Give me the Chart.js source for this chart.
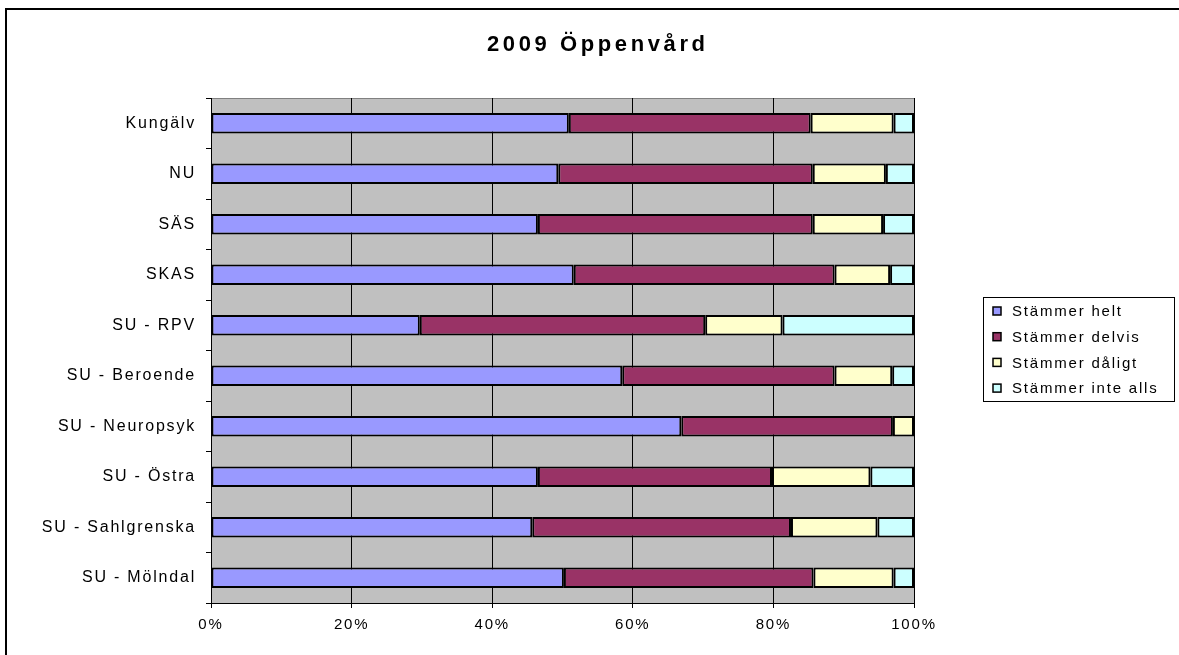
<!DOCTYPE html>
<html>
<head>
<meta charset="utf-8">
<script src="https://cdn.jsdelivr.net/npm/chart.js@4.4.1/dist/chart.umd.min.js"></script>
<style>
html,body{margin:0;padding:0;background:#fff;}
#wrap{width:1179px;height:655px;position:relative;}
</style>
</head>
<body>
<div id="wrap"><canvas id="c" width="1179" height="655"></canvas></div>
<script>
const chartTitle = '2009 Öppenvård';
const categories = ['Kungälv','NU','SÄS','SKAS','SU - RPV','SU - Beroende','SU - Neuropsyk','SU - Östra','SU - Sahlgrenska','SU - Mölndal'];
const seriesNames = ['Stämmer helt','Stämmer delvis','Stämmer dåligt','Stämmer inte alls'];
const stammerHelt   = [50.9, 49.4, 46.5, 51.6, 29.7, 58.5, 66.9, 46.5, 45.7, 50.2];
const stammerDelvis = [34.4, 36.2, 39.1, 37.1, 40.6, 30.2, 30.1, 33.3, 36.8, 35.5];
const stammerDaligt = [11.8, 10.4, 10.0,  7.9, 11.0,  8.2,  3.0, 14.0, 12.3, 11.4];
const stammerInte   = [ 2.9,  4.0,  4.4,  3.4, 18.7,  3.1,  0.0,  6.2,  5.2,  2.9];
const xTicks = [0, 20, 40, 60, 80, 100];
const colors = ['#9999FF','#993366','#FFFFCC','#CCFFFF'];
const seriesValues = [stammerHelt, stammerDelvis, stammerDaligt, stammerInte];

const FONT = "'Liberation Sans', Arial, sans-serif";
const AXIS_SPACING = '1.8px';

const canvas = document.getElementById('c');

const deco = {
  id: 'deco',
  beforeUpdate(chart) { chart.ctx.letterSpacing = AXIS_SPACING; },
  beforeDraw(chart) {
    const {ctx, chartArea: a} = chart;
    ctx.letterSpacing = AXIS_SPACING;
    ctx.save();
    ctx.fillStyle = '#ffffff';
    ctx.fillRect(0, 0, chart.width, chart.height);
    ctx.strokeStyle = '#000';
    ctx.lineWidth = 2;
    ctx.strokeRect(6, 9, chart.width + 20, chart.height + 20);
    ctx.fillStyle = '#C0C0C0';
    ctx.fillRect(a.left, a.top, a.right - a.left, a.bottom - a.top);
    ctx.strokeStyle = '#808080';
    ctx.lineWidth = 1;
    ctx.strokeRect(a.left + 0.5, a.top + 0.5, a.right - a.left, a.bottom - a.top);
    ctx.restore();
  },
  afterDraw(chart) {
    const {ctx} = chart;
    ctx.save();
    ctx.fillStyle = '#000';
    ctx.font = 'bold 22px ' + FONT;
    ctx.letterSpacing = '3.6px';
    ctx.textAlign = 'left';
    ctx.textBaseline = 'middle';
    const tw = ctx.measureText(chartTitle).width - 3.6;
    ctx.fillText(chartTitle, 596 - tw / 2, 45);
    const lx = 983, ly = 297, lw = 191, lh = 104;
    ctx.fillStyle = '#fff';
    ctx.fillRect(lx, ly, lw, lh);
    ctx.strokeStyle = '#000';
    ctx.lineWidth = 1;
    ctx.strokeRect(lx + 0.5, ly + 0.5, lw, lh);
    ctx.font = '15px ' + FONT;
    ctx.letterSpacing = '1.8px';
    ctx.textAlign = 'left';
    ctx.textBaseline = 'middle';
    chart.data.datasets.forEach((ds, i) => {
      const cy = 311 + i * 25.7;
      ctx.fillStyle = ds.backgroundColor;
      ctx.fillRect(993, cy - 4, 8, 8);
      ctx.strokeStyle = '#000';
      ctx.lineWidth = 1.5;
      ctx.strokeRect(993, cy - 4, 8, 8);
      ctx.fillStyle = '#000';
      ctx.fillText(ds.label, 1012, cy + 1);
    });
    ctx.restore();
  }
};

new Chart(canvas, {
  type: 'bar',
  data: {
    labels: categories,
    datasets: seriesNames.map((n, i) => ({
      label: n,
      data: seriesValues[i],
      backgroundColor: colors[i],
      borderColor: '#000',
      borderWidth: 2,
      borderSkipped: false,
      categoryPercentage: 1.0,
      barPercentage: 0.41
    }))
  },
  options: {
    indexAxis: 'y',
    responsive: false,
    animation: false,
    devicePixelRatio: 1,
    layout: {padding: {left: 0, right: 265, top: 98, bottom: 0}},
    plugins: {legend: {display: false}, title: {display: false}, tooltip: {enabled: false}},
    scales: {
      x: {
        stacked: true, min: 0, max: 100,
        afterFit(s) { s.height = 52; },
        afterBuildTicks(s) { s.ticks = xTicks.map(v => ({value: v})); },
        ticks: {callback: v => v + '%', color: '#000', font: {family: FONT, size: 15}, padding: 8, maxRotation: 0},
        grid: {color: '#000', lineWidth: 1, drawTicks: true, tickLength: 5, tickColor: '#000'},
        border: {display: true, color: '#000', width: 1}
      },
      y: {
        stacked: true,
        afterFit(s) { s.width = 211; },
        ticks: {color: '#000', font: {family: FONT, size: 16}, padding: 10},
        grid: {offset: true, drawOnChartArea: false, drawTicks: true, tickLength: 5, tickColor: '#000', color: '#000'},
        border: {display: true, color: '#000', width: 1}
      }
    }
  },
  plugins: [deco]
});
</script>
</body>
</html>
